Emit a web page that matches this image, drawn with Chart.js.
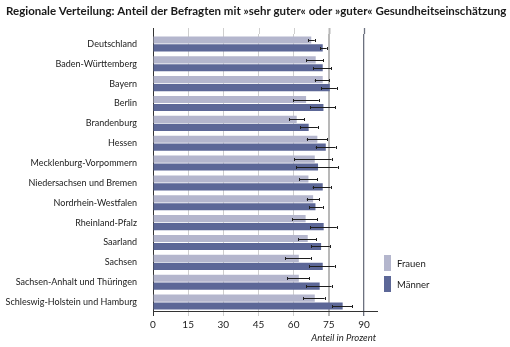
<!DOCTYPE html>
<html>
<head>
<meta charset="utf-8">
<script src="https://cdn.jsdelivr.net/npm/chart.js@4"></script>
<style>
html,body{margin:0;padding:0;background:#fff;}
canvas{display:block;}
</style>
</head>
<body>
<canvas id="c" width="510" height="347" style="width:510px;height:347px"></canvas>
<script>
const titleText = 'Regionale Verteilung: Anteil der Befragten mit »sehr guter« oder »guter« Gesundheitseinschätzung';
const axisTitle = 'Anteil in Prozent';
const categories = ['Deutschland','Baden-Württemberg','Bayern','Berlin','Brandenburg','Hessen','Mecklenburg-Vorpommern','Niedersachsen und Bremen','Nordrhein-Westfalen','Rheinland-Pfalz','Saarland','Sachsen','Sachsen-Anhalt und Thüringen','Schleswig-Holstein und Hamburg'];
const seriesNames = ['Frauen','Männer'];
const frauen      = [67.5, 69.4, 72.4, 65.3, 61.3, 70.1, 69.0, 66.3, 68.3, 65.1, 66.0, 62.2, 62.2, 69.0];
const frauenLow   = [66.1, 65.3, 69.0, 59.9, 58.0, 65.6, 60.3, 62.3, 65.6, 59.3, 61.9, 56.5, 57.3, 64.1];
const frauenHigh  = [69.0, 72.7, 75.2, 70.7, 64.6, 74.4, 76.2, 70.0, 71.0, 70.0, 69.7, 67.3, 66.7, 73.2];
const maenner     = [72.4, 72.4, 75.4, 72.7, 66.4, 73.7, 70.4, 72.4, 69.3, 72.8, 71.7, 72.4, 71.1, 80.9];
const maennerLow  = [71.3, 68.4, 71.8, 67.0, 62.7, 69.4, 61.0, 68.1, 66.6, 67.0, 67.4, 66.7, 65.4, 76.5];
const maennerHigh = [74.1, 76.1, 78.4, 77.8, 70.3, 77.9, 78.8, 75.8, 72.4, 78.4, 75.4, 77.5, 76.2, 85.0];
const xTicks = [0, 15, 30, 45, 60, 75, 90];

const colors = ['#b4b6cd', '#5c6797'];
const FONT = 'Lato, "Open Sans", sans-serif';

function gridColor(v){ if (v===0) return '#333'; if (v===75) return '#b8b8b8'; if (v===90) return '#6c717f'; return '#cfcfcf'; }
function gridWidth(v){ if (v===75) return 2; if (v===90) return 1.3; return 1; }

const decor = {
  id: 'decor',
  beforeDraw(chart){
    const c = chart.ctx; c.save(); c.fillStyle='#fff'; c.fillRect(0,0,chart.width,chart.height); c.restore();
  },
  beforeDatasetsDraw(chart){
    const c = chart.ctx, a = chart.chartArea, xs = chart.scales.x;
    c.save();
    xTicks.forEach(v=>{
      const x = Math.round(xs.getPixelForValue(v))+0.5;
      c.strokeStyle = gridColor(v); c.lineWidth = gridWidth(v);
      c.beginPath(); c.moveTo(x, a.top-6); c.lineTo(x, a.top); c.stroke();
    });
    c.strokeStyle='#333'; c.lineWidth=1;
    c.beginPath(); c.moveTo(a.left, a.bottom-0.5); c.lineTo(378, a.bottom-0.5); c.stroke();
    c.restore();
  },
  afterDatasetsDraw(chart){
    const c = chart.ctx, xs = chart.scales.x;
    const lows = [frauenLow, maennerLow], highs = [frauenHigh, maennerHigh];
    c.save(); c.strokeStyle='#1e1e1e'; c.lineWidth=1;
    [0,1].forEach(d=>{
      chart.getDatasetMeta(d).data.forEach((bar,i)=>{
        const y = Math.round(bar.y)+0.5;
        const x1 = xs.getPixelForValue(lows[d][i]), x2 = xs.getPixelForValue(highs[d][i]);
        c.beginPath(); c.moveTo(x1,y); c.lineTo(x2,y);
        c.moveTo(Math.round(x1)+0.5,y-1.5); c.lineTo(Math.round(x1)+0.5,y+1.5);
        c.moveTo(Math.round(x2)+0.5,y-1.5); c.lineTo(Math.round(x2)+0.5,y+1.5);
        c.stroke();
      });
    });
    c.restore();
  },
  afterDraw(chart){
    const c = chart.ctx;
    c.save();
    c.fillStyle='#1a1a1a'; c.textBaseline='alphabetic'; c.textAlign='left';
    c.font = 'bold 11.5px ' + FONT;
    c.fillText(titleText, 6, 15);
    c.font = 'italic 9.5px ' + FONT; c.textAlign='right';
    c.fillText(axisTitle, 376, 340.5);
    c.textAlign='left'; c.font = '9.5px ' + FONT;
    seriesNames.forEach((n,i)=>{
      const y0 = 255 + i*21;
      c.fillStyle = colors[i]; c.fillRect(384, y0, 7, 16);
      c.fillStyle = '#1a1a1a'; c.fillText(n, 397, y0+12);
    });
    c.restore();
  }
};

new Chart(document.getElementById('c'), {
  type: 'bar',
  data: {
    labels: categories,
    datasets: [
      {label: seriesNames[0], data: frauen, backgroundColor: colors[0], categoryPercentage: 0.8, barPercentage: 0.9},
      {label: seriesNames[1], data: maenner, backgroundColor: colors[1], categoryPercentage: 0.8, barPercentage: 0.9}
    ]
  },
  options: {
    indexAxis: 'y',
    responsive: false,
    animation: false,
    devicePixelRatio: 1,
    layout: {padding: {left: 0, right: 146, top: 34, bottom: 0}},
    plugins: {legend: {display: false}, title: {display: false}, tooltip: {enabled: false}},
    scales: {
      y: {
        grid: {display: false},
        border: {display: false},
        ticks: {font: {family: FONT, size: 9}, color: '#1a1a1a', padding: 8, autoSkip: false},
        afterFit(s){ s.width = 153; }
      },
      x: {
        min: 0, max: 90,
        afterBuildTicks(s){ s.ticks = xTicks.map(v=>({value:v})); },
        border: {display: false},
        grid: {
          color: ctx => gridColor(ctx.tick ? ctx.tick.value : 0),
          lineWidth: ctx => gridWidth(ctx.tick ? ctx.tick.value : 0),
          tickLength: 4, drawTicks: true
        },
        ticks: {font: {family: FONT, size: 10}, color: '#1a1a1a', padding: 3, maxRotation: 0},
        afterFit(s){ s.height = 35; }
      }
    }
  },
  plugins: [decor]
});
</script>
</body>
</html>
